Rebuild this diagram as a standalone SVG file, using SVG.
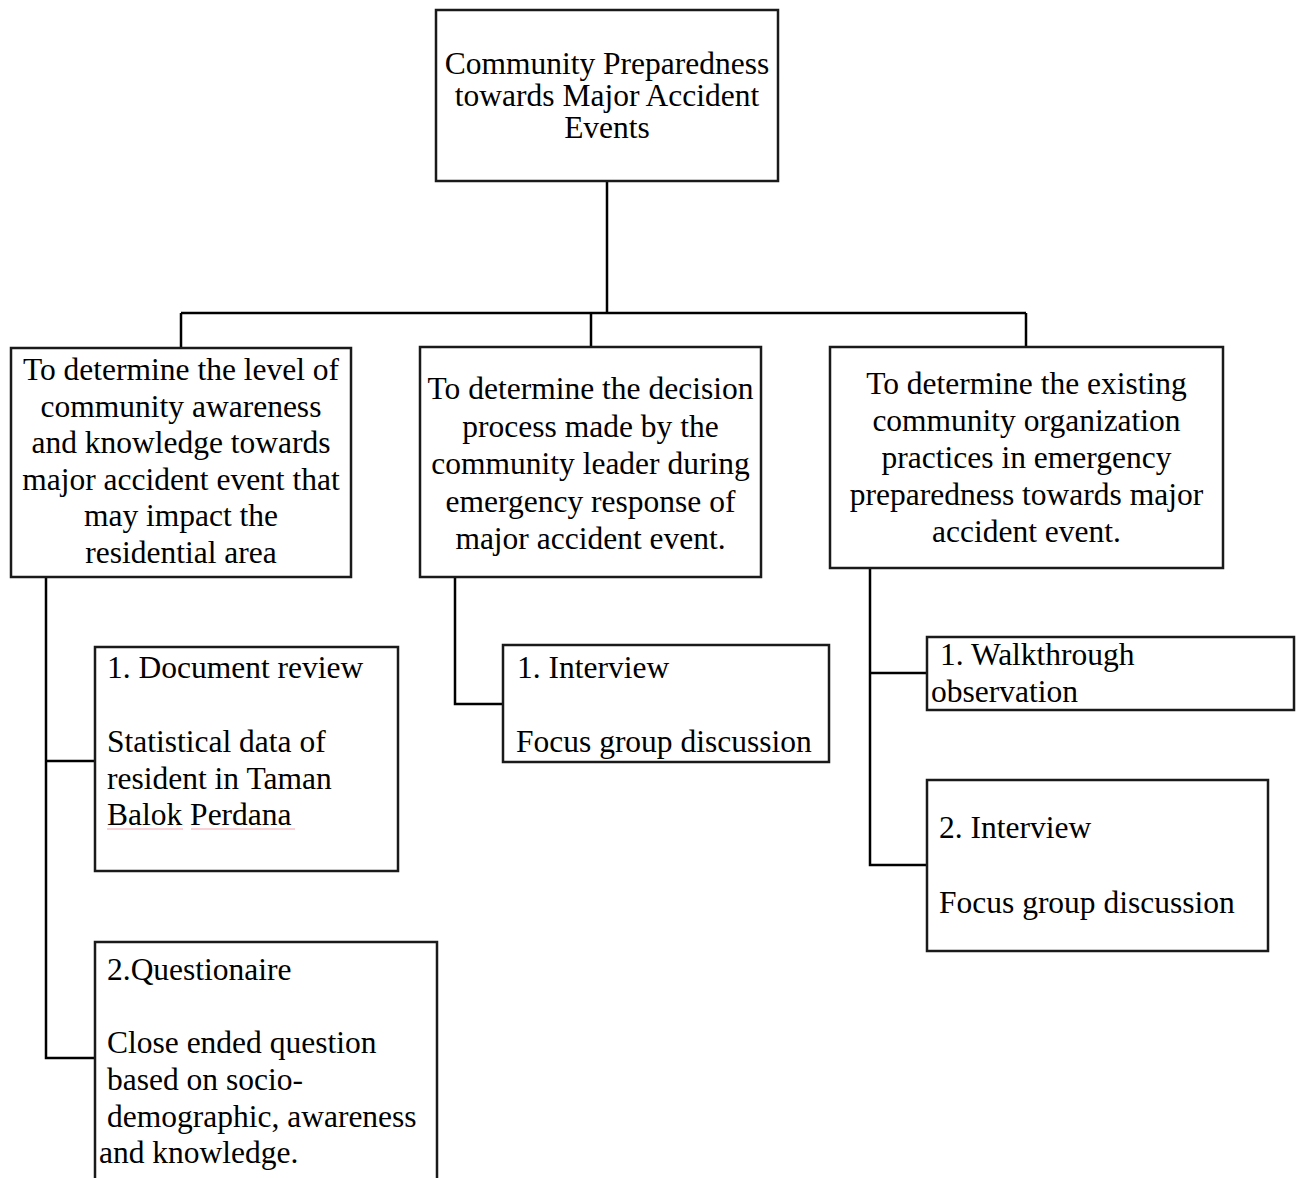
<svg xmlns="http://www.w3.org/2000/svg" width="1300" height="1178" viewBox="0 0 1300 1178">
<style>
.box{fill:#fff;stroke:#1a1a1a;stroke-width:2.5}
.t{font-family:"Liberation Serif","Times New Roman",serif;font-size:31.5px;fill:#000}
.c{text-anchor:middle}
.ln{fill:none;stroke:#000;stroke-width:2.5}
.sp{stroke:#f2a6ad;stroke-width:1.2}
</style>
<rect width="1300" height="1178" fill="#fff"/>
<g id="connectors">
<path class="ln" d="M607 181V313M181 313H1026M181 313V347M591 313V347M1026 313V347"/>
<path class="ln" d="M46 577V1058H95M46 761H95"/>
<path class="ln" d="M455 577V704H503"/>
<path class="ln" d="M870 568V865H927M870 673H927"/>
</g>
<g id="root">
<rect class="box" x="436" y="10" width="342" height="171"/>
<text class="t c" x="607" y="74">Community Preparedness</text>
<text class="t c" x="607" y="106">towards Major Accident</text>
<text class="t c" x="607" y="138">Events</text>
</g>
<g id="objective1">
<rect class="box" x="11" y="348" width="340" height="229"/>
<text class="t c" x="181" y="380">To determine the level of</text>
<text class="t c" x="181" y="416.5">community awareness</text>
<text class="t c" x="181" y="453">and knowledge towards</text>
<text class="t c" x="181" y="489.5">major accident event that</text>
<text class="t c" x="181" y="526">may impact the</text>
<text class="t c" x="181" y="562.5">residential area</text>
</g>
<g id="objective2">
<rect class="box" x="420" y="347" width="341" height="230"/>
<text class="t c" x="590.5" y="399">To determine the decision</text>
<text class="t c" x="590.5" y="436.5">process made by the</text>
<text class="t c" x="590.5" y="474">community leader during</text>
<text class="t c" x="590.5" y="511.5">emergency response of</text>
<text class="t c" x="590.5" y="549">major accident event.</text>
</g>
<g id="objective3">
<rect class="box" x="830" y="347" width="393" height="221"/>
<text class="t c" x="1026.5" y="394">To determine the existing</text>
<text class="t c" x="1026.5" y="431">community organization</text>
<text class="t c" x="1026.5" y="468">practices in emergency</text>
<text class="t c" x="1026.5" y="505">preparedness towards major</text>
<text class="t c" x="1026.5" y="542">accident event.</text>
</g>
<g id="document-review">
<rect class="box" x="95" y="647" width="303" height="224"/>
<text class="t" x="107" y="678">1. Document review</text>
<text class="t" x="107" y="752">Statistical data of</text>
<text class="t" x="107" y="789">resident in Taman</text>
<text class="t" x="107" y="825">Balok Perdana</text>
<line class="sp" x1="107" y1="829" x2="183" y2="829"/>
<line class="sp" x1="191" y1="829" x2="295" y2="829"/>
</g>
<g id="questionnaire">
<path class="box" d="M95 1180V942H437V1180"/>
<text class="t" x="107" y="980">2.Questionaire</text>
<text class="t" x="107" y="1053">Close ended question</text>
<text class="t" x="107" y="1090">based on socio-</text>
<text class="t" x="107" y="1127">demographic, awareness</text>
<text class="t" x="99" y="1163">and knowledge.</text>
</g>
<g id="interview1">
<rect class="box" x="503" y="645" width="326" height="117"/>
<text class="t" x="517" y="678">1. Interview</text>
<text class="t" x="516" y="752">Focus group discussion</text>
</g>
<g id="walkthrough">
<rect class="box" x="927" y="637" width="367" height="73"/>
<text class="t" x="940" y="665">1. Walkthrough</text>
<text class="t" x="931" y="702">observation</text>
</g>
<g id="interview2">
<rect class="box" x="927" y="780" width="341" height="171"/>
<text class="t" x="939" y="838">2. Interview</text>
<text class="t" x="939" y="913">Focus group discussion</text>
</g>
</svg>
